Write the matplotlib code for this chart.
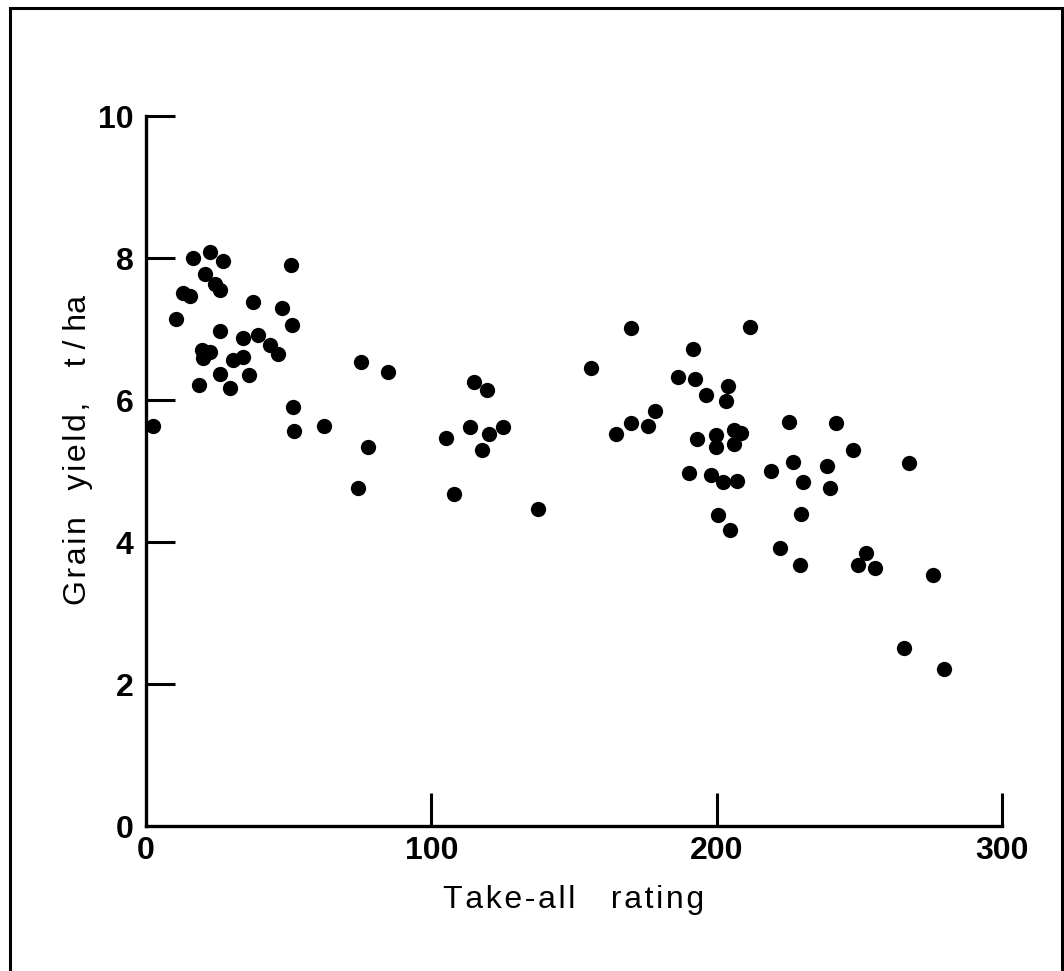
import matplotlib.pyplot as plt
import numpy as np
from matplotlib.patches import Rectangle

# take-all rating vs grain yield (t/ha)
take_all = [16.6, 22.4, 27.1, 50.8, 20.7, 24.2, 25.9, 13.1, 15.4, 37.6,
            47.7, 51.0, 10.4, 25.9, 34.1, 39.3, 43.4, 46.3, 19.5, 22.4,
            20.1, 30.6, 34.1, 25.9, 36.2, 18.7, 29.4, 51.4, 2.3, 51.9,
            62.3, 77.9, 74.2, 75.3, 84.8,
            114.9, 119.5, 113.7, 120.2, 125.1, 105.1, 117.9, 108.0, 137.4, 155.9,
            170.1, 211.6, 191.7, 186.4, 192.5, 204.0, 196.4, 203.4, 178.5, 170.1,
            175.9, 164.6, 193.1, 199.6, 199.9, 206.0, 208.7, 206.0, 190.3, 198.1,
            202.2, 207.1, 218.9, 200.5, 204.6, 225.2, 241.9, 247.7, 226.7, 238.6,
            230.2, 239.6, 267.4, 229.7, 222.1, 229.1, 252.2, 249.7, 255.6, 275.8,
            265.8, 279.5]
grain_yield = [8.00, 8.08, 7.96, 7.90, 7.77, 7.63, 7.55, 7.50, 7.47, 7.38,
               7.29, 7.06, 7.14, 6.97, 6.87, 6.92, 6.77, 6.65, 6.70, 6.68,
               6.59, 6.57, 6.60, 6.36, 6.35, 6.21, 6.17, 5.90, 5.63, 5.57,
               5.63, 5.34, 4.76, 6.54, 6.39,
               6.25, 6.14, 5.62, 5.52, 5.62, 5.47, 5.29, 4.67, 4.46, 6.45,
               7.02, 7.03, 6.72, 6.33, 6.29, 6.20, 6.07, 5.99, 5.84, 5.67,
               5.64, 5.52, 5.45, 5.50, 5.34, 5.58, 5.53, 5.38, 4.97, 4.94,
               4.84, 4.86, 5.00, 4.38, 4.17, 5.69, 5.67, 5.29, 5.12, 5.07,
               4.85, 4.76, 5.11, 4.39, 3.91, 3.68, 3.84, 3.67, 3.64, 3.54,
               2.51, 2.21]

x_ticks = [0, 100, 200, 300]
y_ticks = [0, 2, 4, 6, 8, 10]

W, H = 1064, 971
fig = plt.figure(figsize=(W / 100, H / 100), dpi=100)
fig.patch.set_facecolor("white")

# frame around the whole scanned page
fig.patches.append(Rectangle((10 / W, -0.02), 1052 / W, 1 - 8 / H + 0.02,
                             transform=fig.transFigure, fill=False,
                             edgecolor="black", linewidth=2.2))

ax = fig.add_axes([146 / W, (H - 826) / H, (1002 - 146) / W, (826 - 116) / H])
ax.plot(take_all, grain_yield, "o", color="black", markersize=11,
        markeredgewidth=0, clip_on=False)

ax.set_xlim(0, 300)
ax.set_ylim(0, 10)
for s in ["top", "right"]:
    ax.spines[s].set_visible(False)
for s in ["left", "bottom"]:
    ax.spines[s].set_linewidth(2.4)

ax.set_xticks(x_ticks)
ax.set_yticks(y_ticks)
tick_font = dict(family=["Liberation Sans Narrow", "Liberation Sans"],
                 weight="bold", size=23)
ax.set_xticklabels([str(t) for t in x_ticks], **tick_font)
ax.set_yticklabels([str(t) for t in y_ticks], **tick_font)
ax.tick_params(axis="x", direction="in", length=24, width=2.2, pad=7)
ax.tick_params(axis="y", direction="in", length=21, width=2.2, pad=9)
ax.xaxis.get_ticklines()[0].set_visible(False)
ax.yaxis.get_ticklines()[0].set_visible(False)

# spaced-out lettering like the original typesetting
def spaced(s):
    return "\u200a".join(s)

label_font = dict(family=["Liberation Sans", "DejaVu Sans"], size=23)
ax.set_xlabel(spaced("Take-all") + "    " + spaced("rating"), labelpad=14, **label_font)
ax.set_ylabel(spaced("Grain") + "   " + spaced("yield,") + "    t / ha", **label_font)
ax.yaxis.set_label_coords(-0.062, 0.53)

fig.savefig("out.png", dpi=100, facecolor="white")
